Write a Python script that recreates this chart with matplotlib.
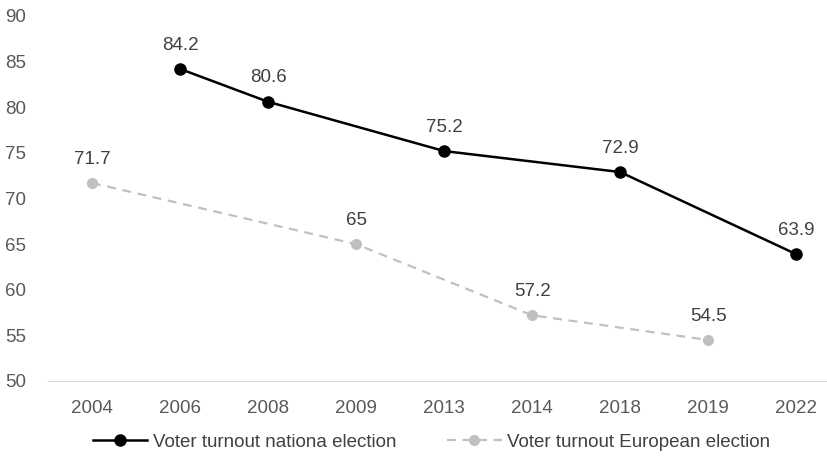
import matplotlib.pyplot as plt
import numpy as np

plt.rcParams['font.family'] = ['Liberation Sans', 'DejaVu Sans']

years = ['2004', '2006', '2008', '2009', '2013', '2014', '2018', '2019', '2022']
national = [np.nan, 84.2, 80.6, np.nan, 75.2, np.nan, 72.9, np.nan, 63.9]
european = [71.7, np.nan, np.nan, 65, np.nan, 57.2, np.nan, 54.5, np.nan]
yticks = [50, 55, 60, 65, 70, 75, 80, 85, 90]

x = np.arange(len(years))
nat = np.array(national)
eur = np.array(european)
mn = ~np.isnan(nat)
me = ~np.isnan(eur)

fig = plt.figure(figsize=(8.27, 4.57), dpi=100)
ax = fig.add_axes([48 / 827, 1 - 381 / 457, 1 - 48 / 827, 365 / 457])

ax.plot(x[mn], nat[mn], '-', color='black', lw=1.8, marker='o', ms=8,
        label='Voter turnout nationa election')
ax.plot(x[me], eur[me], '--', color='#c0c0c0', lw=1.6, marker='o', ms=7,
        dashes=(4, 3), label='Voter turnout European election')

for xi, v in zip(x[mn], nat[mn]):
    ax.annotate(f'{v:g}', (xi, v), xytext=(0, 11), textcoords='offset points',
                ha='center', va='bottom', fontsize=13.5, color='#404040')
for xi, v in zip(x[me], eur[me]):
    ax.annotate(f'{v:g}', (xi, v), xytext=(0, 11), textcoords='offset points',
                ha='center', va='bottom', fontsize=13.5, color='#404040')

ax.set_xlim(-0.5, 8.35)
ax.set_ylim(50, 90)
ax.set_xticks(x)
ax.set_xticklabels(years)
ax.set_yticks(yticks)
for s in ['top', 'right', 'left']:
    ax.spines[s].set_visible(False)
ax.spines['bottom'].set_color('#d9d9d9')
ax.tick_params(axis='both', length=0, labelsize=13.5, labelcolor='#595959')
ax.tick_params(axis='x', pad=14)
ax.tick_params(axis='y', pad=16)

fig.legend(loc='center', bbox_to_anchor=(0.522, 1 - 442 / 457), ncol=2, frameon=False,
           fontsize=13.5, labelcolor='#404040', handlelength=2.9, handletextpad=0.3,
           columnspacing=2.7)

fig.savefig('out.png', dpi=100)
